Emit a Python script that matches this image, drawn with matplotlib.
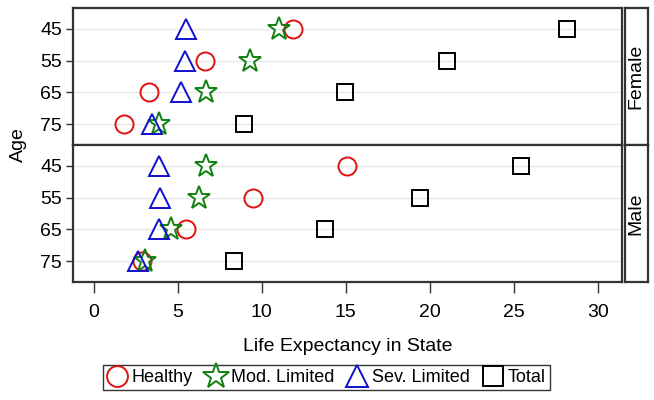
import matplotlib.pyplot as plt
from matplotlib.lines import Line2D

plt.rcParams['font.family'] = ['Liberation Sans', 'DejaVu Sans']

ages = [45, 55, 65, 75]
panels = ["Female", "Male"]

# life expectancy in state, by age (45, 55, 65, 75)
female_healthy = [11.85, 6.6, 3.3, 1.8]
female_mod = [11.0, 9.3, 6.7, 3.9]
female_sev = [5.5, 5.4, 5.2, 3.45]
female_total = [28.15, 21.05, 14.95, 8.95]

male_healthy = [15.05, 9.5, 5.5, 2.85]
male_mod = [6.7, 6.25, 4.6, 3.05]
male_sev = [3.85, 3.95, 3.85, 2.6]
male_total = [25.45, 19.4, 13.75, 8.35]

series_names = ["Healthy", "Mod. Limited", "Sev. Limited", "Total"]
markers = ["o", "*", "^", "s"]
colors = ["#e01010", "#108010", "#1010d0", "black"]
sizes = [13, 17, 14, 12]

data = {
    "Female": [female_healthy, female_mod, female_sev, female_total],
    "Male": [male_healthy, male_mod, male_sev, male_total],
}

fig = plt.figure(figsize=(6.54, 4.0), dpi=100)
left, right = 0.1116, 0.951
tops = [0.98, 0.6375]
h = 0.3425
frame_col = "#333333"
fs = 14

axes = []
for i, name in enumerate(panels):
    ax = fig.add_axes([left, tops[i] - h, right - left, h])
    ypos = list(range(len(ages)))
    for vals, m, c, s in zip(data[name], markers, colors, sizes):
        ax.plot(vals, ypos, linestyle="none", marker=m, markersize=s,
                markerfacecolor="none", markeredgecolor=c, markeredgewidth=1.4)
    ax.set_yticks(ypos)
    ax.set_yticklabels([str(a) for a in ages], fontsize=fs)
    ax.set_ylim(3.65, -0.65)
    ax.set_xlim(-1.25, 31.45)
    ax.grid(axis="y", color="#e8e8e8", linewidth=1)
    ax.set_axisbelow(True)
    for sp in ax.spines.values():
        sp.set_color(frame_col)
        sp.set_linewidth(1.6)
    ax.tick_params(axis="y", length=5, width=1, color=frame_col, pad=3)
    # strip label on the right
    sax = fig.add_axes([right + 0.004, tops[i] - h, 0.036, h])
    sax.set_xticks([])
    sax.set_yticks([])
    for sp in sax.spines.values():
        sp.set_color(frame_col)
        sp.set_linewidth(1.6)
    sax.text(0.5, 0.5, name, rotation=90, ha="center", va="center",
             fontsize=14, transform=sax.transAxes)
    axes.append(ax)

axes[0].tick_params(axis="x", bottom=False, labelbottom=False)
axes[1].set_xticks([0, 5, 10, 15, 20, 25, 30])
axes[1].tick_params(axis="x", labelsize=fs, length=8, width=1, color=frame_col, pad=8)
axes[1].set_xlabel("Life Expectancy in State", fontsize=fs, labelpad=12)
fig.text(0.028, 0.6375, "Age", rotation=90, ha="center", va="center", fontsize=fs)

handles = [Line2D([], [], linestyle="none", marker=m, markersize=s + 2,
                  markerfacecolor="none", markeredgecolor=c, markeredgewidth=1.4)
           for m, c, s in zip(markers, colors, sizes)]
leg = fig.legend(handles, series_names, loc="center", bbox_to_anchor=(0.499, 0.056),
                 ncol=4, frameon=True, fancybox=False, fontsize=13,
                 handlelength=1.1, handletextpad=0.3, columnspacing=0.7,
                 borderpad=0.2, borderaxespad=0, edgecolor="black")
leg.get_frame().set_linewidth(1.0)

fig.savefig("out.png", dpi=100)
